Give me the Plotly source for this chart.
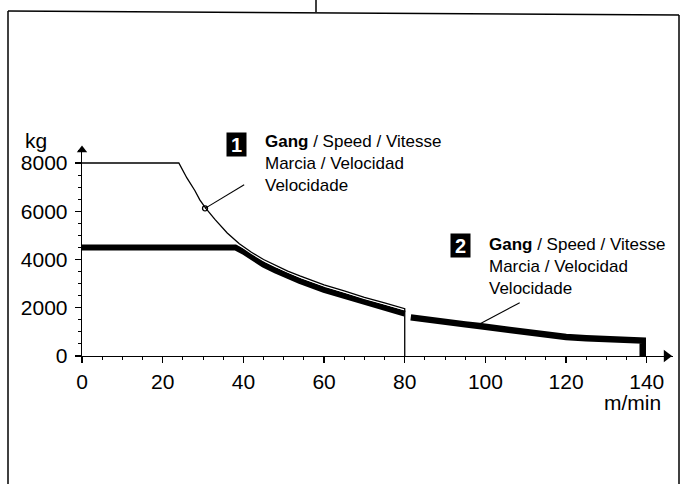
import plotly.graph_objects as go
import numpy as np

# ---- data ----
gear1_thin_v = [0, 24, 26, 28, 29.2, 30.7, 33, 36, 39, 42, 45, 48, 51, 54, 60, 65, 70, 75, 80, 80]
gear1_thin_kg = [8000, 8000, 7380, 6850, 6470, 6120, 5650, 5100, 4650, 4300, 4000, 3750, 3520,
                 3320, 2950, 2700, 2430, 2200, 1960, 0]

gear1_thick_v = [0, 38, 40, 42, 45, 48, 51, 54, 60, 65, 70, 75, 80]
gear1_thick_kg = [4500, 4500, 4330, 4100, 3790, 3540, 3310, 3110, 2740, 2490, 2220, 1990, 1760]

gear2_v = [81.5, 85, 90, 95, 98.5, 105, 110, 113, 120, 125, 130, 138.5, 139, 139]
gear2_kg = [1600, 1510, 1400, 1310, 1240, 1100, 990, 900, 790, 740, 700, 640, 640, 0]

leader1_v = [30.5, 40.2]
leader1_kg = [6120, 7100]
leader2_v = [98.8, 108.5]
leader2_kg = [1350, 2210]

x_ticks = [0, 20, 40, 60, 80, 100, 120, 140]
y_ticks = [0, 2000, 4000, 6000, 8000]

label_text = "<b>Gang</b> / Speed / Vitesse<br>Marcia / Velocidad<br>Velocidade"

FONT = "Liberation Sans, Arial, Helvetica, sans-serif"
W, H = 688, 484
L, R, T, B = 82, 15, 147, 128
X_MAX = 146.5
Y_MAX = 8663


def px_to_paper(px, py):
    return (px - L) / (W - L - R), (H - B - py) / (H - T - B)


fig = go.Figure()

# thick curve of gear 1
fig.add_trace(go.Scatter(x=gear1_thick_v, y=gear1_thick_kg, mode="lines",
                         line=dict(color="black", width=6), hoverinfo="skip"))
# white gap along thin curve where it rides on the thick band
tv = np.array(gear1_thin_v[:-1])
tk = np.array(gear1_thin_kg[:-1])
mask = tv >= 39
fig.add_trace(go.Scatter(x=tv[mask], y=tk[mask], mode="lines",
                         line=dict(color="white", width=3.2), hoverinfo="skip"))
# thin curve of gear 1
fig.add_trace(go.Scatter(x=gear1_thin_v, y=gear1_thin_kg, mode="lines",
                         line=dict(color="black", width=1.3), hoverinfo="skip"))
# gear 2
fig.add_trace(go.Scatter(x=gear2_v, y=gear2_kg, mode="lines",
                         line=dict(color="black", width=6.5), hoverinfo="skip"))
# leader lines
fig.add_trace(go.Scatter(x=leader1_v, y=leader1_kg, mode="lines",
                         line=dict(color="black", width=1.1), hoverinfo="skip"))
fig.add_trace(go.Scatter(x=[leader1_v[0]], y=[leader1_kg[0]], mode="markers",
                         marker=dict(symbol="circle-open", size=5, color="black",
                                     line=dict(width=1.3)), hoverinfo="skip"))
fig.add_trace(go.Scatter(x=leader2_v, y=leader2_kg, mode="lines",
                         line=dict(color="black", width=1.1), hoverinfo="skip"))
# axis arrowheads
fig.add_trace(go.Scatter(x=[X_MAX - 1.6], y=[0], mode="markers", cliponaxis=False,
                         marker=dict(symbol="triangle-right", size=11, color="black"),
                         hoverinfo="skip"))
fig.add_trace(go.Scatter(x=[0], y=[Y_MAX - 120], mode="markers", cliponaxis=False,
                         marker=dict(symbol="triangle-up", size=9, color="black"),
                         hoverinfo="skip"))

annotations = []
for num, bx, by, tx, ty in [("1", 236, 144, 263, 163), ("2", 460, 245, 487, 266)]:
    bxp, byp = px_to_paper(bx, by)
    annotations.append(dict(xref="paper", yref="paper", x=bxp, y=byp, text="<b>" + num + "</b>",
                            showarrow=False, xanchor="center", yanchor="middle",
                            width=17, height=21, align="center", valign="middle",
                            font=dict(family=FONT, size=20, color="white"),
                            bgcolor="black", borderpad=1))
    txp, typ = px_to_paper(tx, ty)
    annotations.append(dict(xref="paper", yref="paper", x=txp, y=typ, text=label_text,
                            showarrow=False, xanchor="left", yanchor="middle", align="left",
                            font=dict(family=FONT, size=17, color="black")))

ux, uy = px_to_paper(663, 402)
annotations.append(dict(xref="paper", yref="paper", x=ux, y=uy, text="m/min", showarrow=False,
                        xanchor="right", yanchor="middle",
                        font=dict(family=FONT, size=21, color="black")))
kx, ky = px_to_paper(23, 140)
annotations.append(dict(xref="paper", yref="paper", x=kx, y=ky, text="kg", showarrow=False,
                        xanchor="left", yanchor="middle",
                        font=dict(family=FONT, size=21, color="black")))

shapes = []
# scanned page frame
for x0, y0, x1, y1 in [(8, 11, 679, 15), (8, 11, 8, 484), (679, 15, 679, 484), (316, 0, 316, 12)]:
    p0 = px_to_paper(x0, y0)
    p1 = px_to_paper(x1, y1)
    shapes.append(dict(type="line", xref="paper", yref="paper", x0=p0[0], y0=p0[1],
                       x1=p1[0], y1=p1[1], line=dict(color="black", width=1.5)))

fig.update_layout(
    width=W, height=H,
    margin=dict(l=L, r=R, t=T, b=B),
    paper_bgcolor="white", plot_bgcolor="white",
    showlegend=False,
    annotations=annotations,
    shapes=shapes,
    font=dict(family=FONT, size=21, color="black"),
)
fig.update_xaxes(range=[0, X_MAX], showgrid=False, zeroline=False, showline=True,
                 linecolor="black", linewidth=1.3, ticks="outside", ticklen=6, tickwidth=1.3,
                 tickcolor="black", tickvals=x_ticks, ticktext=[str(v) for v in x_ticks],
                 tickfont=dict(family=FONT, size=21, color="black"),
                 minor=dict(dtick=5, ticks="outside", ticklen=3, tickcolor="black", tickwidth=1))
fig.update_yaxes(range=[0, Y_MAX], showgrid=False, zeroline=False, showline=True,
                 linecolor="black", linewidth=1.3, ticks="outside", ticklen=6, tickwidth=1.3,
                 tickcolor="black", tickvals=y_ticks, ticktext=[str(v) for v in y_ticks],
                 tickfont=dict(family=FONT, size=21, color="black"), ticklabelstandoff=3,
                 minor=dict(dtick=500, ticks="outside", ticklen=3, tickcolor="black", tickwidth=1))

fig.write_html(
    "out.html",
    config={"displayModeBar": False, "staticPlot": True},
    post_script="document.body.style.margin='0';document.body.style.overflow='hidden';",
)
